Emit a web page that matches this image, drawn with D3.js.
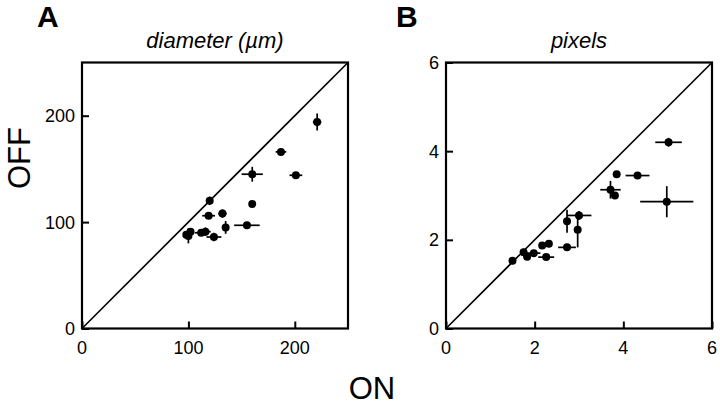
<!DOCTYPE html>
<html>
<head>
<meta charset="utf-8">
<script src="https://cdn.jsdelivr.net/npm/d3@7"></script>
<style>
    body { margin: 0; background: #fff; }
    svg { font-family: "Liberation Sans", Arial, sans-serif; }
</style>
</head>
<body>
<div id="chart"></div>
<script>
// panel A: diameter (um), [ON, OFF, ON err, OFF err]
var diamOn = [221, 187, 160, 201, 120, 160, 119, 132, 135, 155, 124, 116, 112, 100, 102, 98];
var diamOff = [194, 166, 145, 144, 120, 117, 106, 108, 95, 97, 86, 91, 90, 87, 91, 88];
var diamOnErr = [4, 5, 10, 6, 3, 2, 6, 4, 2, 12, 7, 5, 6, 2, 2, 2];
var diamOffErr = [8, 2, 7, 2, 4, 3, 2, 4, 6, 2, 4, 4, 2, 7, 3, 3];
var diamTicks = [0, 100, 200];

// panel B: pixels
var pixOn = [1.5, 1.75, 1.83, 1.98, 2.17, 2.32, 2.26, 2.73, 2.73, 3.0, 2.97, 3.71, 3.81, 3.85, 4.32, 5.02, 4.98];
var pixOff = [1.53, 1.72, 1.62, 1.70, 1.87, 1.91, 1.61, 1.83, 2.42, 2.55, 2.23, 3.13, 3.0, 3.48, 3.45, 4.2, 2.86];
var pixOnErr = [0.08, 0.08, 0.08, 0.15, 0.06, 0.06, 0.18, 0.2, 0.04, 0.28, 0.06, 0.23, 0.05, 0.05, 0.27, 0.3, 0.6];
var pixOffErr = [0.08, 0.08, 0.05, 0.05, 0.05, 0.05, 0.04, 0.04, 0.26, 0.1, 0.4, 0.2, 0.08, 0.06, 0.06, 0.1, 0.35];
var pixTicks = [0, 2, 4, 6];

var width = 720;
var height = 406;
var box_size = 266;
var top_y = 62.5;

var svg = d3.select("#chart").append("svg")
    .attr("width", width)
    .attr("height", height);

function drawPanel(opts) {
    var g = svg.append("g").attr("transform", "translate(" + opts.left + "," + top_y + ")");
    var x = d3.scaleLinear().domain([0, opts.max]).range([0, box_size]);
    var y = d3.scaleLinear().domain([0, opts.max]).range([box_size, 0]);

    // ticks pointing inward
    var xAxis = d3.axisTop(x).tickValues(opts.ticks).tickSize(7).tickFormat("");
    var yAxis = d3.axisRight(y).tickValues(opts.ticks).tickSize(7).tickFormat("");
    g.append("g").attr("transform", "translate(0," + box_size + ")").call(xAxis)
        .call(function (s) { s.select(".domain").remove(); })
        .selectAll("line").attr("stroke", "#000").attr("stroke-width", 2);
    g.append("g").call(yAxis)
        .call(function (s) { s.select(".domain").remove(); })
        .selectAll("line").attr("stroke", "#000").attr("stroke-width", 2);

    // tick labels
    g.selectAll(".xlab").data(opts.ticks).enter().append("text")
        .attr("x", function (d) { return x(d); })
        .attr("y", box_size + 25)
        .attr("text-anchor", "middle")
        .attr("font-size", 18)
        .text(function (d) { return d; });
    g.selectAll(".ylab").data(opts.ticks).enter().append("text")
        .attr("x", -7)
        .attr("y", function (d) { return y(d) + 6.5; })
        .attr("text-anchor", "end")
        .attr("font-size", 18)
        .text(function (d) { return d; });

    // diagonal
    g.append("line")
        .attr("x1", x(0)).attr("y1", y(0))
        .attr("x2", x(opts.max)).attr("y2", y(opts.max))
        .attr("stroke", "#000").attr("stroke-width", 1.6);

    // error bars + points
    var pts = opts.on.map(function (v, i) {
        return { x: v, y: opts.off[i], xe: opts.onErr[i], ye: opts.offErr[i] };
    });
    var pg = g.append("g");
    pg.selectAll(".hbar").data(pts).enter().append("line")
        .attr("x1", function (d) { return x(d.x - d.xe); })
        .attr("x2", function (d) { return x(d.x + d.xe); })
        .attr("y1", function (d) { return y(d.y); })
        .attr("y2", function (d) { return y(d.y); })
        .attr("stroke", "#000").attr("stroke-width", 1.7);
    pg.selectAll(".vbar").data(pts).enter().append("line")
        .attr("x1", function (d) { return x(d.x); })
        .attr("x2", function (d) { return x(d.x); })
        .attr("y1", function (d) { return y(d.y - d.ye); })
        .attr("y2", function (d) { return y(d.y + d.ye); })
        .attr("stroke", "#000").attr("stroke-width", 1.7);
    pg.selectAll("circle").data(pts).enter().append("circle")
        .attr("cx", function (d) { return x(d.x); })
        .attr("cy", function (d) { return y(d.y); })
        .attr("r", 4)
        .attr("fill", "#000");

    // frame
    g.append("rect")
        .attr("x", 0).attr("y", 0)
        .attr("width", box_size).attr("height", box_size)
        .attr("fill", "none").attr("stroke", "#000").attr("stroke-width", 2.2);

    // titles
    g.append("text")
        .attr("x", box_size / 2).attr("y", -15)
        .attr("text-anchor", "middle")
        .attr("font-size", 22)
        .attr("font-style", "italic")
        .text(opts.title);
    svg.append("text")
        .attr("x", opts.letterX).attr("y", 27)
        .attr("font-size", 30)
        .attr("font-weight", "bold")
        .text(opts.letter);
}

drawPanel({
    left: 82, max: 250, ticks: diamTicks,
    on: diamOn, off: diamOff, onErr: diamOnErr, offErr: diamOffErr,
    title: "diameter (\u00b5m)", letter: "A", letterX: 37
});
drawPanel({
    left: 446, max: 6, ticks: pixTicks,
    on: pixOn, off: pixOff, onErr: pixOnErr, offErr: pixOffErr,
    title: "pixels", letter: "B", letterX: 396
});

// shared axis titles
svg.append("text")
    .attr("transform", "translate(30,158) rotate(-90)")
    .attr("text-anchor", "middle")
    .attr("font-size", 31)
    .text("OFF");
svg.append("text")
    .attr("x", 372).attr("y", 399)
    .attr("text-anchor", "middle")
    .attr("font-size", 31)
    .text("ON");
</script>
</body>
</html>
